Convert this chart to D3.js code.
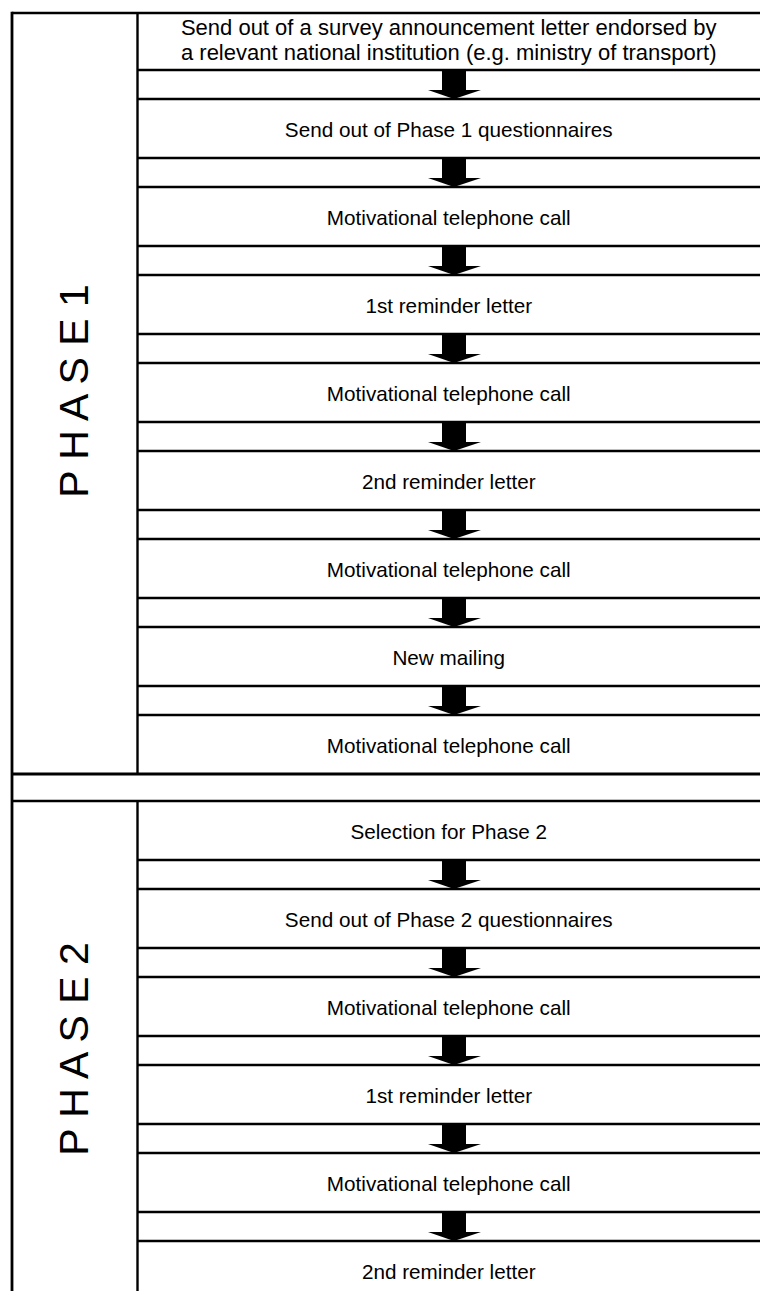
<!DOCTYPE html>
<html>
<head>
<meta charset="utf-8">
<script src="https://cdn.jsdelivr.net/npm/d3@7"></script>
<style>
html,body{margin:0;padding:0;background:#fff;}
svg{display:block;}
text{font-family:"Liberation Sans",Arial,sans-serif;fill:#000;}
</style>
</head>
<body>
<svg id="chart" width="760" height="1291"></svg>
<script>
// ---- data ----
const phaseLabels = ["P H A S E 1", "P H A S E 2"];
const phase1Steps = [
  ["Send out of a survey announcement letter endorsed by", "a relevant national institution (e.g. ministry of transport)"],
  ["Send out of Phase 1 questionnaires"],
  ["Motivational telephone call"],
  ["1st reminder letter"],
  ["Motivational telephone call"],
  ["2nd reminder letter"],
  ["Motivational telephone call"],
  ["New mailing"],
  ["Motivational telephone call"]
];
const phase2Steps = [
  ["Selection for Phase 2"],
  ["Send out of Phase 2 questionnaires"],
  ["Motivational telephone call"],
  ["1st reminder letter"],
  ["Motivational telephone call"],
  ["2nd reminder letter"]
];

// ---- layout ----
const W = 760, H = 1291;
const svg = d3.select("#chart");
const xOuter = 12, xInner = 137.5, xRight = W;
const xArrow = 454;
const step = 88, boxH = 59;
const y1 = d3.scaleLinear().domain([0, 1]).range([11, 11 + step]);
const p1Bottom = y1(phase1Steps.length - 1) + boxH;
const p2Top = p1Bottom + 27;
const y2 = d3.scaleLinear().domain([0, 1]).range([p2Top, p2Top + step]);
const topY = 13;

const fontSize = 20.7;
const fontSizeMulti = 22;

function drawPhase(steps, yS, startY, endY, label, labelY) {
  const g = svg.append("g");
  steps.forEach((s, i) => {
    const top = yS(i), bot = top + boxH;
    if (i < steps.length - 1) {
      g.append("line").attr("x1", xInner).attr("x2", xRight)
        .attr("y1", bot).attr("y2", bot)
        .attr("stroke", "#000").attr("stroke-width", 2.6);
      g.append("line").attr("x1", xInner).attr("x2", xRight)
        .attr("y1", bot + (step - boxH)).attr("y2", bot + (step - boxH))
        .attr("stroke", "#000").attr("stroke-width", 2.6);
      const a0 = bot, a1 = bot + (step - boxH);
      const pts = [
        [xArrow - 12, a0], [xArrow + 12, a0], [xArrow + 12, a0 + 20],
        [xArrow + 27, a0 + 20], [xArrow, a1], [xArrow - 26, a0 + 20],
        [xArrow - 12, a0 + 20]
      ];
      g.append("path").attr("d", d3.line()(pts) + "Z").attr("fill", "#000");
    }
    const lines = s;
    const multi = lines.length > 1;
    const fs = multi ? fontSizeMulti : fontSize;
    const t0 = Math.max(top, topY);
    const cy = t0 + (bot - t0) / 2;
    const lh = 25;
    lines.forEach((t, k) => {
      g.append("text")
        .attr("x", (xInner + xRight) / 2)
        .attr("y", cy + (k - (lines.length - 1) / 2) * lh + fs * 0.36 + (multi ? -1.5 : 1))
        .attr("text-anchor", "middle")
        .attr("font-size", fs)
        .text(t);
    });
  });
  g.append("line").attr("x1", xInner).attr("x2", xInner)
    .attr("y1", startY).attr("y2", endY)
    .attr("stroke", "#000").attr("stroke-width", 2.4);
  g.append("text")
    .attr("transform", `translate(${(xOuter + xInner) / 2 + 13},${labelY}) rotate(-90)`)
    .attr("text-anchor", "middle")
    .attr("font-size", 41)
    .text(label);
}

drawPhase(phase1Steps, y1, topY, p1Bottom, phaseLabels[0], 391);
drawPhase(phase2Steps, y2, p2Top, H, phaseLabels[1], 1049);

svg.append("line").attr("x1", xOuter).attr("x2", xRight)
  .attr("y1", topY).attr("y2", topY).attr("stroke", "#000").attr("stroke-width", 2.6);
svg.append("line").attr("x1", xOuter).attr("x2", xRight)
  .attr("y1", p1Bottom).attr("y2", p1Bottom).attr("stroke", "#000").attr("stroke-width", 3);
svg.append("line").attr("x1", xOuter).attr("x2", xRight)
  .attr("y1", p2Top).attr("y2", p2Top).attr("stroke", "#000").attr("stroke-width", 2.4);
svg.append("line").attr("x1", xOuter).attr("x2", xOuter)
  .attr("y1", topY - 1.3).attr("y2", H)
  .attr("stroke", "#000").attr("stroke-width", 2.8);
</script>
</body>
</html>
